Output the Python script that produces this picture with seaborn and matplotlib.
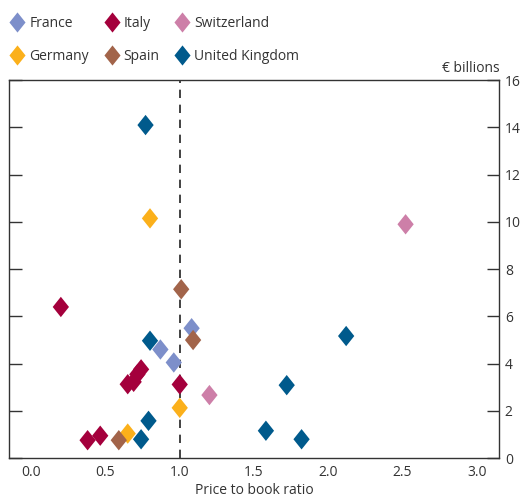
"""
Price to book ratio vs. capital amounts for European banks, by country.
"""

import matplotlib

matplotlib.use("Agg")
import matplotlib.pyplot as plt  # noqa: E402
import pandas as pd  # noqa: E402
import seaborn as sns  # noqa: E402

# Values (price to book ratio, € billions)
france_pb = [1.08, 0.87, 0.96]
france_val = [5.5, 4.6, 4.05]
germany_pb = [0.80, 1.00, 0.65]
germany_val = [10.15, 2.13, 1.04]
italy_pb = [0.20, 0.74, 0.715, 0.69, 0.65, 1.00, 0.38, 0.465]
italy_val = [6.4, 3.76, 3.55, 3.23, 3.13, 3.12, 0.76, 0.95]
spain_pb = [1.01, 1.09, 0.59]
spain_val = [7.15, 5.0, 0.76]
switzerland_pb = [2.52, 1.20]
switzerland_val = [9.9, 2.67]
uk_pb = [0.77, 0.80, 2.12, 1.72, 0.79, 1.58, 1.82, 0.74]
uk_val = [14.1, 4.97, 5.17, 3.09, 1.58, 1.16, 0.80, 0.80]

countries = ["France", "Germany", "Italy", "Spain", "Switzerland", "United Kingdom"]
colors = ["#7d8fca", "#fbb01b", "#a4003c", "#a2644a", "#cd7fa8", "#005a8c"]

x_ticks = [0.0, 0.5, 1.0, 1.5, 2.0, 2.5, 3.0]
y_ticks = [0, 2, 4, 6, 8, 10, 12, 14, 16]


def build_frame():
    parts = [
        ("France", france_pb, france_val),
        ("Germany", germany_pb, germany_val),
        ("Italy", italy_pb, italy_val),
        ("Spain", spain_pb, spain_val),
        ("Switzerland", switzerland_pb, switzerland_val),
        ("United Kingdom", uk_pb, uk_val),
    ]
    rows = []
    for name, pb, val in parts:
        for p, v in zip(pb, val):
            rows.append({"country": name, "pb": p, "value": v})
    return pd.DataFrame(rows)


def main():
    sns.set_style("white")
    plt.rcParams["font.family"] = ["Open Sans", "DejaVu Sans"]
    text_col = "#333333"

    df = build_frame()
    diamond = [(0, 1), (0.8, 0), (0, -1), (-0.8, 0), (0, 1)]

    fig = plt.figure(figsize=(5.2, 4.98), dpi=100)
    ax = fig.add_axes([0.017, 0.080, 0.943, 0.759])

    sns.scatterplot(
        data=df, x="pb", y="value", hue="country", hue_order=countries,
        palette=dict(zip(countries, colors)), marker=diamond, s=215,
        linewidth=0, alpha=1, ax=ax, zorder=3,
    )
    ax.axvline(1.0, color="#222222", lw=1.2, ls=(0, (5, 4)), zorder=2)

    ax.set_xlim(-0.15, 3.15)
    ax.set_ylim(0, 16)
    ax.set_xticks(x_ticks)
    ax.set_xticklabels([f"{t:.1f}" for t in x_ticks])
    ax.set_yticks(y_ticks)
    ax.set_xlabel("Price to book ratio", fontsize=10, color=text_col, labelpad=2)
    ax.set_ylabel("")

    for sp in ax.spines.values():
        sp.set_color("#333333")
        sp.set_linewidth(1.0)
    ax.tick_params(axis="x", direction="in", length=9, width=1, colors="#333333",
                   labelsize=10, labelcolor=text_col, pad=5)
    ax.tick_params(axis="y", direction="in", length=9, width=1, colors="#333333",
                   left=True, right=True, labelleft=False, labelright=True,
                   labelsize=10, labelcolor=text_col, pad=4)

    ax.text(1.0, 1.012, "€ billions", transform=ax.transAxes, ha="right",
            va="bottom", fontsize=10, color=text_col)

    handles, labels = ax.get_legend_handles_labels()
    for h in handles:
        h.set_markersize(14.5)
    ax.get_legend().remove()
    fig.legend(handles, labels, loc="upper left", bbox_to_anchor=(-0.008, 0.993),
               ncol=3, frameon=False, fontsize=10, labelcolor=text_col,
               handletextpad=0.2, columnspacing=1.0, labelspacing=1.28,
               handlelength=1.3)

    fig.savefig("out.png", dpi=100)
    plt.close(fig)


if __name__ == "__main__":
    main()
